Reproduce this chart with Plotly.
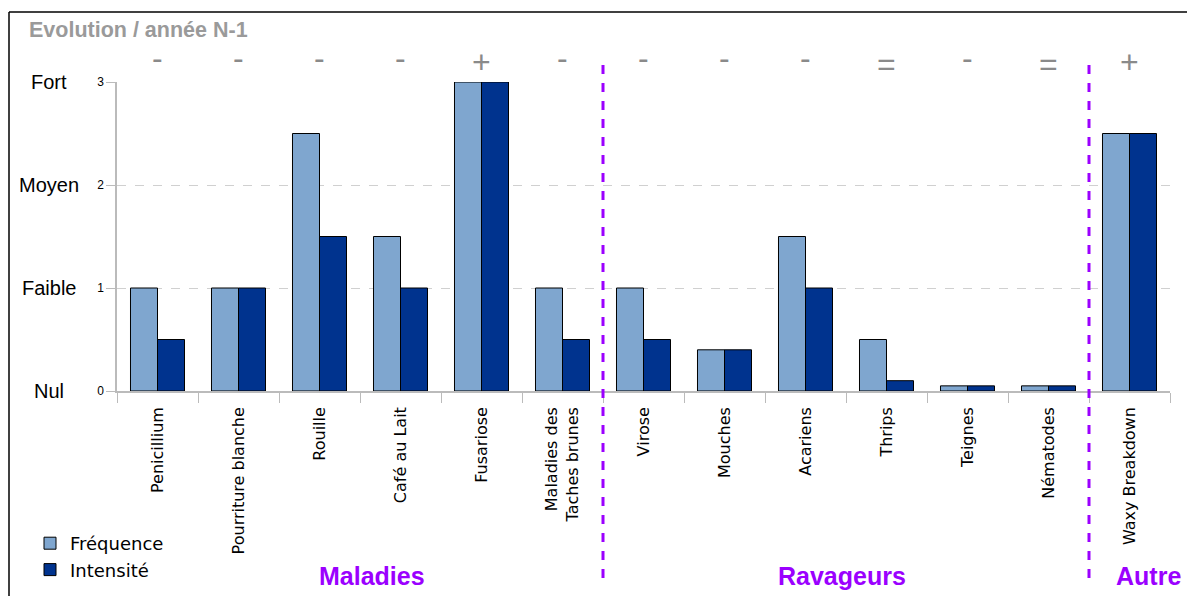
import plotly.graph_objects as go

categories = ["Penicillium", "Pourriture blanche", "Rouille", "Café au Lait", "Fusariose",
              "Maladies des<br>Taches brunes", "Virose", "Mouches", "Acariens", "Thrips",
              "Teignes", "Nématodes", "Waxy Breakdown"]
frequence = [1, 1, 2.5, 1.5, 3, 1, 1, 0.4, 1.5, 0.5, 0.05, 0.05, 2.5]
intensite = [0.5, 1, 1.5, 1, 3, 0.5, 0.5, 0.4, 1, 0.1, 0.05, 0.05, 2.5]
evolution = ["-", "-", "-", "-", "+", "-", "-", "-", "-", "=", "-", "=", "+"]
level_vals = [0, 1, 2, 3]
level_names = ["Nul", "Faible", "Moyen", "Fort"]
groups = ["Maladies", "Ravageurs", "Autre"]
group_px = [372, 842, 1148]
divider_pos = [5.5, 11.5]

L, T, B = 117, 82, 391
W, H = 1053, 309
sign_y = {"-": 58, "+": 62, "=": 64}


def px(x):
    return (x - L) / W


def py(y):
    return (B - y) / H


fig = go.Figure()
fig.add_trace(go.Bar(x=categories, y=frequence, name="Fréquence",
                     marker=dict(color="#7fa6cf", line=dict(color="#000000", width=1))))
fig.add_trace(go.Bar(x=categories, y=intensite, name="Intensité",
                     marker=dict(color="#00338e", line=dict(color="#000000", width=1))))

ann = []
for c, s in zip(categories, evolution):
    ann.append(dict(x=c, y=py(sign_y[s]), xref="x", yref="paper", text=s, showarrow=False,
                    xanchor="center", yanchor="middle",
                    font=dict(size=32, color="#8a8a8a", family="Liberation Sans")))
for v, n in zip(level_vals, level_names):
    ann.append(dict(x=px(49), y=v, xref="paper", yref="y", text=n, showarrow=False,
                    xanchor="center", yanchor="middle",
                    font=dict(size=20, color="#000", family="Liberation Sans")))
for g, gx in zip(groups, group_px):
    ann.append(dict(x=px(gx), y=py(576), xref="paper", yref="paper", text="<b>" + g + "</b>",
                    showarrow=False, xanchor="center", yanchor="middle",
                    font=dict(size=25, color="#9b00ff", family="Liberation Sans")))
ann.append(dict(x=px(27), y=py(30), xref="paper", yref="paper", text="<b>Evolution / année N-1</b>",
                showarrow=False, xanchor="left", yanchor="middle",
                font=dict(size=21.5, color="#9a9a9a", family="Liberation Sans")))

shapes = []
for d in divider_pos:
    shapes.append(dict(type="line", xref="x", yref="paper", x0=d, x1=d,
                       y0=py(65), y1=py(582),
                       line=dict(color="#9b00ff", width=3, dash="dash")))
shapes.append(dict(type="line", xref="paper", yref="paper", x0=px(9), x1=px(1190),
                   y0=py(12), y1=py(12), line=dict(color="#000", width=1.5)))
shapes.append(dict(type="line", xref="paper", yref="paper", x0=px(9), x1=px(9),
                   y0=py(12), y1=py(600), line=dict(color="#000", width=1.5)))

fig.update_layout(
    width=1187, height=596,
    margin=dict(l=L, r=1187 - L - W, t=T, b=596 - B, autoexpand=False),
    paper_bgcolor="white", plot_bgcolor="white",
    barmode="group", bargap=0.333, bargroupgap=0,
    showlegend=True,
    legend=dict(x=px(30), y=py(525), xanchor="left", yanchor="top",
                font=dict(size=18, family="DejaVu Sans", color="#000"),
                tracegroupgap=0, itemwidth=30),
    annotations=ann, shapes=shapes,
    xaxis=dict(type="category", tickangle=-90, tickson="boundaries", ticks="outside",
               ticklen=10, tickcolor="#bbbbbb", showline=True, linecolor="#bbbbbb",
               linewidth=1.5, showgrid=False, ticklabelstandoff=8, automargin=False,
               tickfont=dict(size=16, family="DejaVu Sans", color="#000")),
    yaxis=dict(range=[0, 3], tickvals=level_vals, ticktext=[str(v) for v in level_vals],
               ticks="outside", ticklen=9, tickcolor="#bbbbbb", showline=True,
               linecolor="#bbbbbb", linewidth=1.5, showgrid=True, gridcolor="#d0d0d0",
               griddash="dash", zeroline=False, automargin=False,
               tickfont=dict(size=12, family="Liberation Sans", color="#000")),
)
fig.write_html("out.html")
